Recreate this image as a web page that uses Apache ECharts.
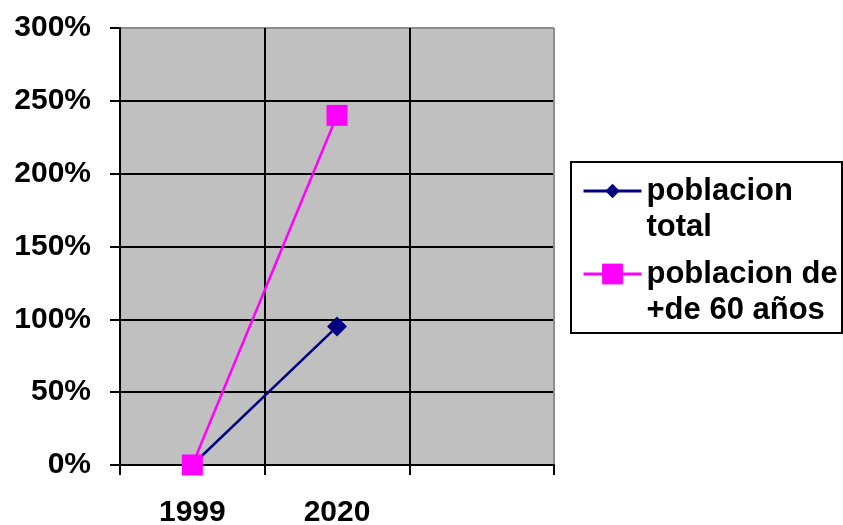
<!DOCTYPE html>
<html>
<head>
<meta charset="utf-8">
<script src="https://cdn.jsdelivr.net/npm/echarts@6/dist/echarts.min.js"></script>
<style>
  html, body { margin: 0; padding: 0; background: #fff; }
  #chart { width: 843px; height: 525px; }
</style>
</head>
<body>
<div id="chart"></div>
<script>
// Categories (the third slot is left empty on purpose)
const years = ['1999', '2020', ''];

// Growth in percent
const seriesNames = ['poblacion total', 'poblacion de +de 60 años'];
const totalGrowth = [0, 95];
const seniorGrowth = [0, 240];

// Legend text, split into two lines per entry
const legendLines = {
  'poblacion total': ['poblacion', 'total'],
  'poblacion de +de 60 años': ['poblacion de', '+de 60 años']
};

// Value axis ticks
const yMin = 0, yMax = 300, yStep = 50;

const FONT = "'Liberation Sans', Arial, sans-serif";
const NAVY = '#000080';
const MAGENTA = '#ff00ff';

const chart = echarts.init(document.getElementById('chart'), null, { renderer: 'canvas' });

// The blank first line keeps the legend marker level with the first text line
function legendText(name) {
  return '\n' + legendLines[name].join('\n');
}
const legendTextStyle = {
  fontFamily: FONT,
  fontWeight: 'bold',
  fontSize: 31,
  color: '#000',
  lineHeight: 36,
  padding: [0, 0, 8, 0]
};

chart.setOption({
  animation: false,
  backgroundColor: '#fff',
  grid: {
    left: 120, right: 289, top: 28, bottom: 60,
    outerBoundsMode: 'none',
    containLabel: false,
    show: true,
    backgroundColor: '#c0c0c0',
    borderColor: '#8c8c8c',
    borderWidth: 1
  },
  xAxis: {
    type: 'category',
    data: years,
    boundaryGap: true,
    axisLine: { show: true, lineStyle: { color: '#000', width: 2 } },
    axisTick: { show: true, length: 10, alignWithLabel: false, lineStyle: { color: '#000', width: 2 } },
    axisLabel: { fontFamily: FONT, fontWeight: 'bold', fontSize: 30, color: '#000', margin: 33 },
    splitLine: {
      show: true, interval: 0,
      lineStyle: { color: ['#000', '#000', '#000', '#8c8c8c'], width: 2 }
    }
  },
  yAxis: {
    type: 'value',
    min: yMin, max: yMax, interval: yStep,
    axisLine: { show: true, lineStyle: { color: '#000', width: 2 } },
    axisTick: { show: true, length: 10, lineStyle: { color: '#000', width: 2 } },
    axisLabel: { fontFamily: FONT, fontWeight: 'bold', fontSize: 30, color: '#000', margin: 29, formatter: '{value}%' },
    splitLine: {
      show: true,
      lineStyle: { color: ['#000', '#000', '#000', '#000', '#000', '#000', '#8c8c8c'], width: 2 }
    }
  },
  graphic: [{
    type: 'rect',
    z: 1,
    shape: { x: 571, y: 162, width: 271, height: 171 },
    style: { fill: '#fff', stroke: '#000', lineWidth: 2 }
  }],
  legend: [
    {
      data: [seriesNames[0]],
      left: 582, top: 133,
      z: 5, padding: 0,
      itemWidth: 58, itemHeight: 18,
      lineStyle: { width: 3 },
      formatter: legendText,
      textStyle: legendTextStyle
    },
    {
      data: [seriesNames[1]],
      left: 582, top: 216,
      z: 5, padding: 0,
      itemWidth: 58, itemHeight: 26,
      lineStyle: { width: 3 },
      formatter: legendText,
      textStyle: legendTextStyle
    }
  ],
  series: [
    {
      name: seriesNames[0],
      type: 'line',
      data: totalGrowth,
      symbol: 'diamond',
      symbolSize: 20,
      color: NAVY,
      itemStyle: { color: NAVY },
      lineStyle: { color: NAVY, width: 2.5 }
    },
    {
      name: seriesNames[1],
      type: 'line',
      data: seniorGrowth,
      symbol: 'rect',
      symbolSize: 21,
      color: MAGENTA,
      itemStyle: { color: MAGENTA },
      lineStyle: { color: MAGENTA, width: 2.5 }
    }
  ]
});
</script>
</body>
</html>
